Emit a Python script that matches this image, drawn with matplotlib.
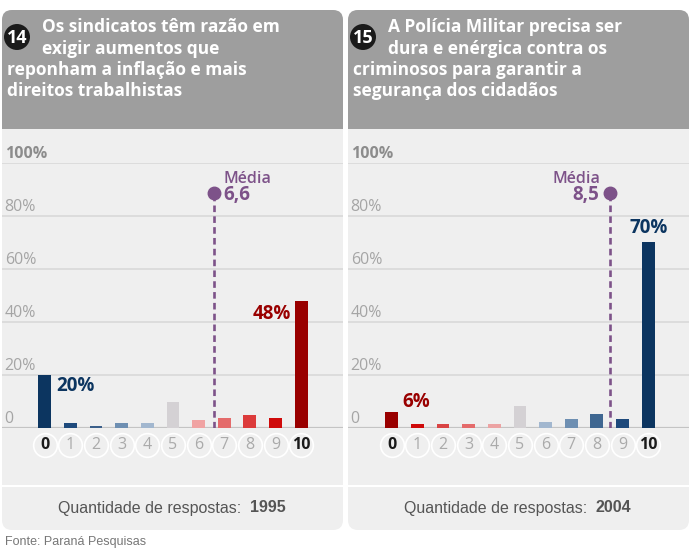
import matplotlib
matplotlib.use("Agg")
import matplotlib.pyplot as plt
from matplotlib.patches import FancyBboxPatch, Circle, Rectangle

plt.rcParams['font.family'] = ['Open Sans', 'DejaVu Sans']

# dados
notas = list(range(11))
sindicatos = [20, 2, 1, 2, 2, 10, 3, 4, 5, 4, 48]
policia = [6, 1.5, 1.5, 1.5, 1.5, 8.5, 2.5, 3.5, 5.5, 3.5, 70]
media_sind = 6.6
media_pol = 8.5
cores_sind = ['#0c3560', '#1e4a7c', '#3b5f8a', '#6e8fb2', '#a2b7cf', '#d4d1d4',
              '#f0a3a3', '#e46b6b', '#dc3b3b', '#cf0a0a', '#990000']
cores_pol = ['#990000', '#cf0a0a', '#d94444', '#e46b6b', '#eca3a3', '#d4d1d4',
             '#a2b7cf', '#6e8fb2', '#3f6791', '#1e4a7c', '#0c3560']
titulos = ["Os sindicatos têm razão em\nexigir aumentos que\nreponham a inflação e mais\ndireitos trabalhistas",
           "A Polícia Militar precisa ser\ndura e enérgica contra os\ncriminosos para garantir a\nsegurança dos cidadãos"]
numeros = ["14", "15"]
respostas = ["1995", "2004"]
yticks = [0, 20, 40, 60, 80, 100]

W, H = 690, 554
fig = plt.figure(figsize=(W / 100, H / 100), dpi=100)
fig.patch.set_facecolor('white')

# camada de fundo em pixels
bg = fig.add_axes([0, 0, 1, 1])
bg.set_xlim(0, W)
bg.set_ylim(H, 0)
bg.axis('off')

paineis = [2, 348]
for i, x0 in enumerate(paineis):
    pw = 341
    bg.add_patch(FancyBboxPatch((x0, 10), pw, 520, boxstyle="round,pad=0,rounding_size=10",
                                fc='#efefef', ec='none'))
    bg.add_patch(FancyBboxPatch((x0, 10), pw, 60, boxstyle="round,pad=0,rounding_size=10",
                                fc='#9e9e9e', ec='none'))
    bg.add_patch(Rectangle((x0, 40), pw, 89, fc='#9e9e9e', ec='none'))
    bg.plot([x0, x0 + pw], [486, 486], color='white', lw=1.5)
    bg.add_patch(Circle((x0 + 15, 37), 13, fc='#1a1a1a', ec='none'))
    bg.text(x0 + 15, 38, numeros[i], color='white', fontsize=13, fontweight='bold',
            ha='center', va='center')
    linhas = titulos[i].split('\n')
    for j, ln in enumerate(linhas):
        xt = x0 + 40 if j < 2 else x0 + 5
        bg.text(xt, 27 + j * 21.5, ln, color='white', fontsize=12.5, fontweight='bold',
                ha='left', va='center')
    bg.text(x0 + 239, 508, "Quantidade de respostas:", color='#555555', fontsize=11.5,
            family='Liberation Sans', ha='right', va='center')
    bg.text(x0 + 248, 508, respostas[i], color='#555555', fontsize=11.5, fontweight='bold',
            family='Liberation Sans', ha='left', va='center')

bg.text(5, 542, "Fonte: Paraná Pesquisas", color='#777777', fontsize=9,
        family='Liberation Sans', ha='left', va='center')

# graficos de barras
y0, y100 = 428.3, 162.7
centros = [44.7, 391.7]
passo = 25.65
dados = [(sindicatos, cores_sind, media_sind), (policia, cores_pol, media_pol)]

for i, (vals, cores, media) in enumerate(dados):
    x0 = paineis[i]
    ax = fig.add_axes([x0 / W, 1 - y0 / H, 341 / W, (y0 - y100) / H])
    ax.set_xlim((x0 - centros[i]) / passo, (x0 + 341 - centros[i]) / passo)
    ax.set_ylim(0, 100)
    ax.patch.set_alpha(0)
    for s in ax.spines.values():
        s.set_visible(False)
    ax.set_xticks([])
    ax.set_yticks([])

    for t in yticks:
        if t == 0:
            ax.axhline(0, color='#c4c4c4', lw=1.6, zorder=1)
        else:
            ax.axhline(t, color='#dcdcdc', lw=1.4, zorder=1)
        rot = f"{t}%" if t > 0 else "0"
        ax.text(0.008, t + 0.4, rot, transform=ax.get_yaxis_transform(),
                color='#8c8c8c' if t == 100 else '#a5a5a5',
                fontweight='bold' if t == 100 else 'normal',
                fontsize=11.5, ha='left', va='bottom')

    ax.bar(notas, vals, width=0.5, color=cores, zorder=2)

    ax.scatter(notas, [-6.4] * 11, s=290, facecolor='#efefef', edgecolor='white',
               linewidth=1.2, clip_on=False, zorder=3)
    for n in notas:
        ext = n in (0, 10)
        ax.text(n, -6.4, str(n), color='#1a1a1a' if ext else '#aaaaaa',
                fontweight='bold' if ext else 'normal', fontsize=11.5,
                ha='center', va='center', clip_on=False, zorder=4)

    roxo = '#7d5289'
    ax.plot([media, media], [0, 88.5], color=roxo, lw=1.9, ls=(0, (2.5, 1.6)), zorder=3)
    ax.plot(media, 88.5, 'o', color=roxo, ms=9, zorder=4)
    rotulo_media = f"{media:.1f}".replace('.', ',')
    if i == 0:
        ax.text(media + 0.38, 94, "Média", color=roxo, fontsize=11.5, fontweight='semibold',
                ha='left', va='center')
        ax.text(media + 0.35, 87.7, rotulo_media, color=roxo, fontsize=13.5, fontweight='bold',
                ha='left', va='center')
        ax.text(0.45, 19.6, f"{vals[0]}%", color='#0c3560', fontsize=13.5, fontweight='bold',
                ha='left', va='top')
        ax.text(9.6, 46.8, f"{vals[10]}%", color='#990000', fontsize=13.5, fontweight='bold',
                ha='right', va='top')
    else:
        ax.text(media - 0.35, 94, "Média", color=roxo, fontsize=11.5, fontweight='semibold',
                ha='right', va='center')
        ax.text(media - 0.4, 87.7, rotulo_media, color=roxo, fontsize=13.5, fontweight='bold',
                ha='right', va='center')
        ax.text(0.42, 6.3, f"{vals[0]:.0f}%", color='#990000', fontsize=13.5, fontweight='bold',
                ha='left', va='bottom')
        ax.text(10, 71.5, f"{vals[10]}%", color='#0c3560', fontsize=13.5, fontweight='bold',
                ha='center', va='bottom')

fig.savefig("out.png", dpi=100)
